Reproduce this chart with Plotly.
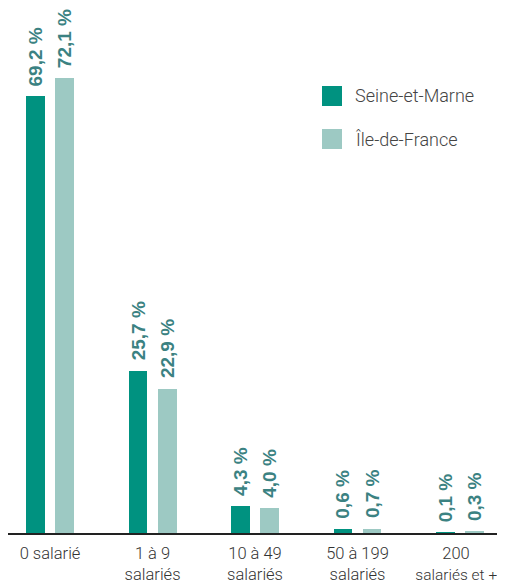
import plotly.graph_objects as go

categories = ["0 salarié", "1 à 9<br>salariés", "10 à 49<br>salariés", "50 à 199<br>salariés",
              "200&nbsp;&nbsp;<br><span style='font-size:15.5px'>salariés et +&nbsp;&nbsp;</span>"]
seine_et_marne = [69.2, 25.7, 4.3, 0.6, 0.1]
ile_de_france = [72.1, 22.9, 4.0, 0.7, 0.3]
series_names = ["Seine-et-Marne", "Île-de-France"]

dark = "#009280"
light = "#9dc9c3"
label_color = "#3b8282"

def fmt(v):
    return f"{v:.1f}".replace(".", ",") + " %"

BAR_W = 0.185
xs = list(range(len(categories)))
fig = go.Figure()
for vals, col, off, name in [(seine_et_marne, dark, -0.234, series_names[0]),
                              (ile_de_france, light, 0.049, series_names[1])]:
    fig.add_trace(go.Bar(
        x=xs, y=vals, name=name, marker=dict(color=col, line=dict(width=0)),
        width=BAR_W, offset=off, showlegend=False, hoverinfo="x+y",
    ))
    for x, v in zip(xs, vals):
        fig.add_annotation(x=x + off + BAR_W / 2, y=v, text=fmt(v), showarrow=False,
                           textangle=-90, xanchor="center", yanchor="bottom", yshift=8,
                           font=dict(family="Liberation Sans", size=19, color=label_color, weight="bold"))

# custom legend (positions in plot-area fractions)
PW, PH = 489, 523
for i, (name, col) in enumerate(zip(series_names, [dark, light])):
    y0 = 86 + i * 43
    fig.add_shape(type="rect", xref="paper", yref="paper",
                  x0=(322 - 8) / PW, x1=(342 - 8) / PW,
                  y0=(533 - (y0 + 20)) / PH, y1=(533 - y0) / PH,
                  fillcolor=col, line=dict(width=0))
    fig.add_annotation(xref="paper", yref="paper", x=(353 - 8) / PW, y=(533 - (y0 + 10)) / PH,
                       text=name, showarrow=False, xanchor="left", yanchor="middle",
                       font=dict(family="Roboto", size=18, color="#444444", weight=300))

# page has an 8px body margin, so figure is 8px smaller and offset
fig.update_layout(
    width=497, height=578,
    margin=dict(l=0, r=8, t=2, b=53),
    paper_bgcolor="white", plot_bgcolor="white",
    bargap=0,
    xaxis=dict(range=[-0.41, 4.361], tickvals=xs, ticktext=categories, automargin=False,
               showgrid=False, zeroline=False, showline=True, linecolor="#222222", linewidth=1.5,
               ticks="", ticklabelstandoff=4, ticklabeloverflow="allow",
               tickfont=dict(family="Roboto", size=16.5, color="#333333", weight=300)),
    yaxis=dict(range=[0, 82.9], visible=False, automargin=False),
)
fig.write_html("out.html")
